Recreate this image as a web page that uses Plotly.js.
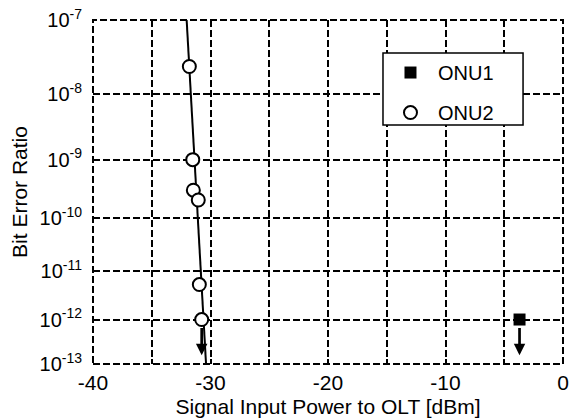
<!DOCTYPE html>
<html>
<head>
<meta charset="utf-8">
<script src="https://cdn.plot.ly/plotly-3.0.1.min.js"></script>
<style>html,body{margin:0;padding:0;background:#fff;}#chart{width:570px;height:418px;}</style>
</head>
<body>
<div id="chart"></div>
<script>
// ---- data ----
const onu1Power = [-3.7];
const onu1BER = [1.0e-12];
const onu2Power = [-31.80, -31.51, -31.46, -31.04, -30.95, -30.75];
const onu2BER = [2.45e-8, 1.0e-9, 3.1e-10, 2.1e-10, 5.4e-12, 1.0e-12];
const fitPower = [-32.03, -30.38];
const fitBER = [1e-7, 1e-13];
const arrowTipBER = 1.6e-13;           // "error free" arrows point down to here
const yTickBER = [1e-7, 1e-8, 1e-9, 1e-10, 1e-11, 1e-12, 1e-13];
const yTickLabels = ['10<sup>-7</sup>', '10<sup>-8</sup>', '10<sup>-9</sup>', '10<sup>-10</sup>',
                     '10<sup>-11</sup>', '10<sup>-12</sup>', '10<sup>-13</sup>'];
const xTickVals = [-40, -30, -20, -10, 0];
const xTickLabels = ['-40', '-30', '-20', '-10', '0'];

// BER axis: log(-log10(BER)) scale (standard BER plot)
const q = b => -Math.log10(b);
const FONT = 'Liberation Sans, Arial, sans-serif';
const DASH = '7px,3px';

const traces = [
  {x: fitPower, y: fitBER.map(q), mode: 'lines', showlegend: false, hoverinfo: 'skip',
   line: {color: '#000', width: 2}},
  {x: onu1Power, y: onu1BER.map(q), mode: 'markers', name: 'ONU1', legendgroup: 'a',
   marker: {symbol: 'square', size: 12, color: '#000', line: {width: 0}}},
  {x: onu2Power, y: onu2BER.map(q), mode: 'markers', name: 'ONU2', legendgroup: 'b',
   marker: {symbol: 'circle', size: 13, color: '#fff', line: {color: '#000', width: 2}}}
];

function arrowAt(px, ber) {
  return {x: px, y: Math.log10(q(arrowTipBER)), xref: 'x', yref: 'y',
          ax: px, ay: Math.log10(q(ber)), axref: 'x', ayref: 'y',
          text: '', showarrow: true, arrowhead: 2, arrowsize: 0.85, arrowwidth: 2.7,
          arrowcolor: '#000', startstandoff: 7};
}
const lastIdx = onu2Power.length - 1;

const layout = {
  width: 570, height: 418,
  margin: {l: 93, r: 7, t: 20, b: 54},
  paper_bgcolor: '#fff', plot_bgcolor: '#fff',
  font: {family: FONT, size: 20, color: '#000'},
  showlegend: true,
  legend: {x: 0.617, xanchor: 'left', y: 0.904, yanchor: 'top',
           bgcolor: 'rgba(0,0,0,0)', borderwidth: 0, font: {size: 20},
           traceorder: 'grouped', tracegroupgap: 11, itemwidth: 45},
  xaxis: {
    range: [-40, 0], tickmode: 'array', tickvals: xTickVals, ticktext: xTickLabels,
    showgrid: true, gridcolor: '#000', gridwidth: 2, griddash: DASH,
    zeroline: false, showline: false,
    ticks: 'inside', ticklen: 5, tickwidth: 2, tickcolor: '#000',
    ticklabelstandoff: 4, tickfont: {size: 21},
    minor: {dtick: 5, showgrid: true, gridcolor: '#000', gridwidth: 2, griddash: DASH,
            ticks: 'inside', ticklen: 5, tickwidth: 2, tickcolor: '#000'},
    title: {text: 'Signal Input Power to OLT [dBm]', font: {size: 21}, standoff: 6}
  },
  yaxis: {
    type: 'log', range: [Math.log10(13), Math.log10(7)],
    tickmode: 'array', tickvals: yTickBER.map(q), ticktext: yTickLabels,
    showgrid: true, gridcolor: '#000', gridwidth: 2, griddash: DASH,
    zeroline: false, showline: false,
    ticks: 'inside', ticklen: 5, tickwidth: 2, tickcolor: '#000',
    ticklabelstandoff: 10, tickfont: {size: 20},
    title: {text: 'Bit Error Ratio', font: {size: 21}, standoff: 6}
  },
  shapes: [
    {type: 'rect', xref: 'paper', yref: 'paper', x0: 0, x1: 1, y0: 0, y1: 1,
     fillcolor: 'rgba(0,0,0,0)', line: {color: '#000', width: 2, dash: DASH}, layer: 'between'},
    {type: 'rect', xref: 'paper', yref: 'paper', x0: 0.617, x1: 0.915, y0: 0.6948, y1: 0.904,
     fillcolor: '#fff', line: {color: '#000', width: 1.5}, layer: 'above'}
  ],
  annotations: [
    arrowAt(onu1Power[0], onu1BER[0]),
    arrowAt(onu2Power[lastIdx], onu2BER[lastIdx])
  ]
};

Plotly.newPlot('chart', traces, layout, {displayModeBar: false, staticPlot: true});
</script>
</body>
</html>
